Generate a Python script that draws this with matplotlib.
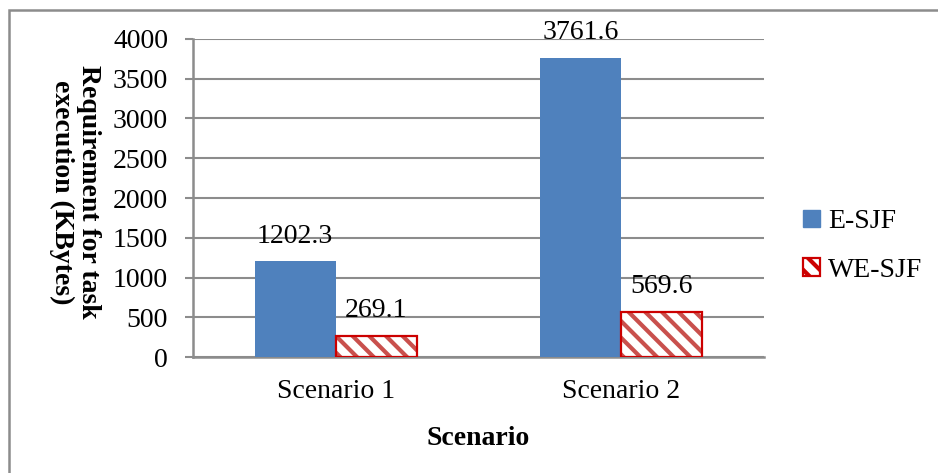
import matplotlib
matplotlib.use("Agg")
import matplotlib.pyplot as plt
from matplotlib.patches import Rectangle, Patch
import numpy as np

categories = ["Scenario 1", "Scenario 2"]
e_sjf = [1202.3, 3761.6]
we_sjf = [269.1, 569.6]
series_names = ["E-SJF", "WE-SJF"]
y_ticks = [0, 500, 1000, 1500, 2000, 2500, 3000, 3500, 4000]

plt.rcParams["font.family"] = ["Liberation Serif", "DejaVu Serif"]
plt.rcParams["hatch.linewidth"] = 3.0

blue = "#4F81BD"
hatch_col = "#C9504D"
edge_red = "#CC0000"
grey = "#8C8C8C"
fs = 20

fig = plt.figure(figsize=(9.38, 4.73), dpi=100)
ax = fig.add_axes([193 / 938, 1 - 357 / 473, (764 - 193) / 938, (357 - 39) / 473])

x = np.arange(len(categories))
w = 0.284

ax.bar(x - w / 2, e_sjf, w, color=blue, zorder=3)
ax.bar(x + w / 2, we_sjf, w, color="white", edgecolor=hatch_col, hatch="\\\\", linewidth=0, zorder=3)
ax.bar(x + w / 2, we_sjf, w, fill=False, edgecolor=edge_red, linewidth=1.6, zorder=4)

for xi, v in zip(x - w / 2, e_sjf):
    ax.annotate(f"{v:.1f}", (xi, v), xytext=(0, 9), textcoords="offset points",
                ha="center", va="bottom", fontsize=fs, annotation_clip=False)
for xi, v in zip(x + w / 2, we_sjf):
    ax.annotate(f"{v:.1f}", (xi, v), xytext=(0, 9), textcoords="offset points",
                ha="center", va="bottom", fontsize=fs, annotation_clip=False)

ax.set_xlim(-0.5, 1.5)
ax.set_ylim(0, 4000)
ax.set_yticks(y_ticks)
ax.set_xticks(x)
ax.set_xticklabels(categories)
ax.tick_params(axis="y", labelsize=fs, length=6, color=grey, width=1.5, pad=12)
ax.tick_params(axis="x", labelsize=fs, length=0, pad=16)
ax.yaxis.grid(True, color=grey, linewidth=1.5, zorder=0)
ax.set_axisbelow(True)
for s in ["top", "right"]:
    ax.spines[s].set_visible(False)
for s in ["left", "bottom"]:
    ax.spines[s].set_color(grey)
    ax.spines[s].set_linewidth(1.8)

ax.set_xlabel("Scenario", fontsize=fs, fontweight="bold", labelpad=16)
fig.text(75 / 938, 1 - 192 / 473, "Requirement for task\nexecution (KBytes)", rotation=-90,
         ha="center", va="center", fontsize=fs, fontweight="bold", linespacing=1.05)

handles = [Patch(facecolor=blue, edgecolor=blue),
           Patch(facecolor="white", edgecolor=edge_red, hatch="\\\\", linewidth=1.6)]
fig.legend(handles, series_names, loc="center left", bbox_to_anchor=(778 / 938, 1 - 246 / 473),
           frameon=False, fontsize=fs, handlelength=0.6, handleheight=0.6,
           handletextpad=0.3, labelspacing=0.85)

fig.add_artist(Rectangle((9 / 938, -0.1), 1.2, 1 - 10 / 473 + 0.1, transform=fig.transFigure,
                         fill=False, edgecolor=grey, linewidth=1.8, clip_on=False))

fig.savefig("out.png", dpi=100, facecolor="white")
